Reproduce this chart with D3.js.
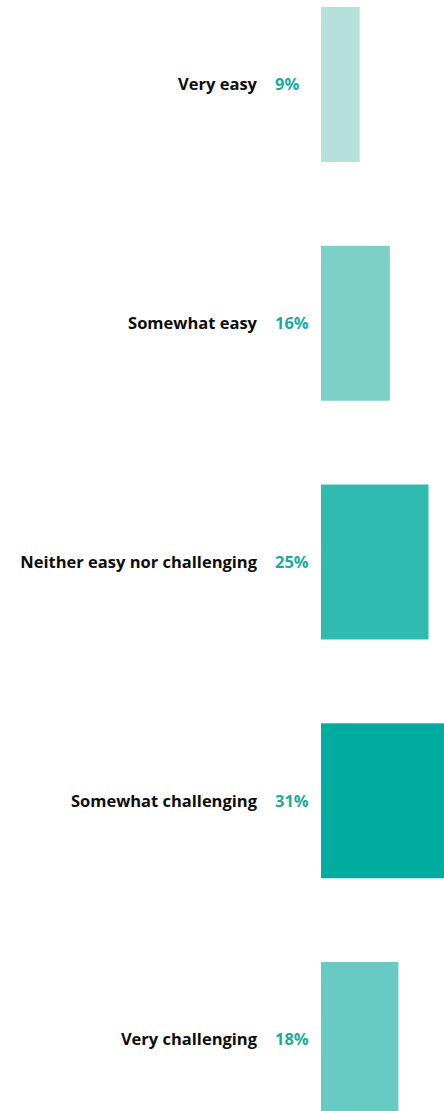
<!DOCTYPE html>
<html>
<head>
<meta charset="utf-8">
<script src="https://cdn.jsdelivr.net/npm/d3@7"></script>
<style>
  html, body { margin: 0; padding: 0; background: #fff; overflow: hidden; }
  svg { display: block; }
</style>
</head>
<body>
<div id="chart"></div>
<script>
var categories = ["Very easy", "Somewhat easy", "Neither easy nor challenging", "Somewhat challenging", "Very challenging"];
var values = [9, 16, 25, 31, 18];
var colors = ["#b6e0dc", "#7dd0c8", "#30bbb0", "#00aba0", "#68cac2"];

(function() {
	var width = 444;
	var height = 1111;

	var svg = d3.select("#chart")
				.append("svg")
				.attr("width", width)
				.attr("height", height)

	var yScale = d3.scaleBand()
				   .domain(categories)
				   .range([7, 1117])
				   .paddingInner(0.351)
				   .paddingOuter(0)

	var xScale = d3.scaleLinear()
				   .domain([0, 100])
				   .range([321, 321 + 430])

	var rows = svg.selectAll("g.row")
				  .data(categories)
				  .enter()
				  .append("g")
				  .attr("class", "row")

	rows.append("rect")
		.attr("x", xScale(0))
		.attr("y", function(d) { return yScale(d); })
		.attr("width", function(d, i) { return xScale(values[i]) - xScale(0); })
		.attr("height", yScale.bandwidth())
		.attr("fill", function(d, i) { return colors[i]; })

	rows.append("text")
		.attr("class", "label")
		.attr("x", 257)
		.attr("y", function(d) { return yScale(d) + yScale.bandwidth() / 2; })
		.attr("dy", "0.36em")
		.attr("text-anchor", "end")
		.attr("font-family", "'Open Sans', sans-serif")
		.attr("font-weight", "bold")
		.attr("font-size", "16.5px")
		.attr("fill", "#0d0d0d")
		.text(function(d) { return d; })

	rows.append("text")
		.attr("x", 275)
		.attr("y", function(d) { return yScale(d) + yScale.bandwidth() / 2; })
		.attr("dy", "0.36em")
		.attr("font-family", "'Open Sans', sans-serif")
		.attr("font-weight", "bold")
		.attr("font-size", "16.5px")
		.attr("fill", "#1aaa9e")
		.text(function(d, i) { return values[i] + "%"; })
}())
</script>
</body>
</html>
